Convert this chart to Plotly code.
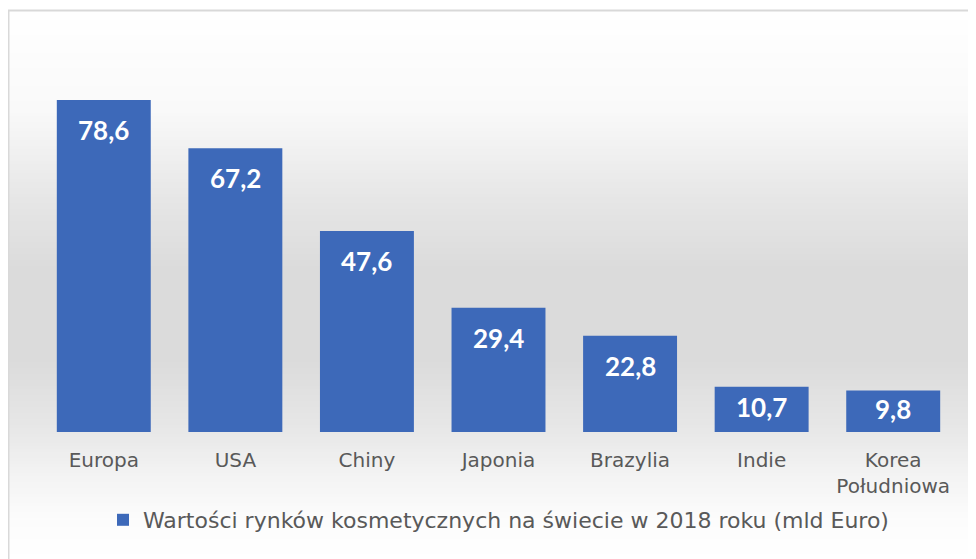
import plotly.graph_objects as go

categories = ["Europa", "USA", "Chiny", "Japonia", "Brazylia", "Indie", "Korea<br>Południowa"]
values = [78.6, 67.2, 47.6, 29.4, 22.8, 10.7, 9.8]
series_name = "Wartości rynków kosmetycznych na świecie w 2018 roku (mld Euro)"

W, H = 976, 559
OFF = 8  # page body margin
# plot area in page pixels
PL, PR, PT, PB = 38, 959, 40, 432
ML, MR, MT, MB = PL - OFF, W - (PR - OFF), PT - OFF, H - (PB - OFF)
PW, PH = PR - PL, PB - PT
PX_PER_UNIT = 332 / 78.6

def px_to_paper_x(px):
    return (px - PL) / PW

def px_to_paper_y(py):
    return (PB - py) / PH

# background vertical gradient stops (page pixel y, grey level)
stops = [(11, 255), (110, 249), (200, 230), (270, 219), (360, 219), (432, 232), (470, 242), (520, 252), (560, 255)]

def grey(py):
    for (y0, g0), (y1, g1) in zip(stops[:-1], stops[1:]):
        if y0 <= py <= y1:
            t = (py - y0) / (y1 - y0)
            return round(g0 + (g1 - g0) * t)
    return 255

shapes = []
step = 3
for py in range(11, H + 10, step):
    g = grey(py + step / 2)
    shapes.append(dict(type="rect", xref="paper", yref="paper",
                       x0=px_to_paper_x(9), x1=px_to_paper_x(W + 20),
                       y0=px_to_paper_y(py + step), y1=px_to_paper_y(py),
                       fillcolor=f"rgb({g},{g},{g})", line=dict(width=0), layer="below"))
# border
shapes.append(dict(type="rect", xref="paper", yref="paper",
                   x0=px_to_paper_x(8.5), x1=px_to_paper_x(W + 30),
                   y0=px_to_paper_y(H + 30), y1=px_to_paper_y(10.5),
                   fillcolor="rgba(0,0,0,0)", line=dict(width=2, color="#d9d9d9"), layer="below"))

labels = [f"{v:.1f}".replace(".", ",") for v in values]

fig = go.Figure()
fig.add_trace(go.Bar(
    x=categories, y=values, name=series_name,
    marker=dict(color="#3d69b9", line=dict(width=0)),
    showlegend=True,
))

annotations = [dict(x=c, y=v, text=t, showarrow=False, yanchor="middle",
                    yshift=-min(30, v * PX_PER_UNIT / 2 - 2),
                    font=dict(family="Lato", size=26, color="white", weight="bold"))
               for c, v, t in zip(categories, values, labels)]

fig.update_layout(
    width=W, height=H,
    margin=dict(l=ML, r=MR, t=MT, b=MB),
    paper_bgcolor="white",
    plot_bgcolor="rgba(0,0,0,0)",
    bargap=0.286,
    shapes=shapes,
    annotations=annotations,
    showlegend=True,
    legend=dict(orientation="h", x=0.5, xanchor="center", y=px_to_paper_y(520), yanchor="middle",
                font=dict(family="DejaVu Sans", size=22, color="#595959"), bgcolor="rgba(0,0,0,0)"),
    xaxis=dict(showgrid=False, showline=False, zeroline=False, ticks="",
               tickfont=dict(family="DejaVu Sans", size=20, color="#595959"), ticklabelstandoff=14),
    yaxis=dict(range=[0, PH / PX_PER_UNIT], visible=False, showgrid=False, zeroline=False),
    font=dict(family="DejaVu Sans"),
)

fig.write_html("out.html")
